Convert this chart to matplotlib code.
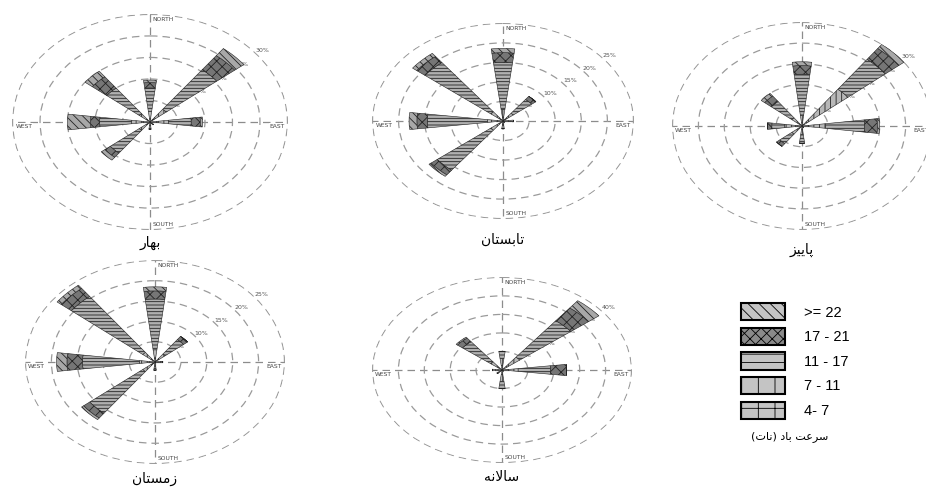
import numpy as np
import matplotlib.pyplot as plt
from matplotlib.patches import Patch

plt.rcParams['hatch.linewidth'] = 0.6

W, H = 926, 491

# wind directions N, NE, E, SE, S, SW, W, NW
angles = np.radians(np.arange(0, 360, 45))
speed_classes = ['4- 7', '7 - 11', '11 - 17', '17 - 21', '>= 22']   # inner -> outer

# percentages per speed class (inner -> outer), each list: N NE E SE S SW W NW
spring = [[1, 1.5, 1.5, 0.3, 0.5, 1, 1.5, 1],
          [2, 3, 2.5, 0.3, 0.5, 2, 2.5, 2],
          [6.5, 14, 5, 0.4, 1, 8, 7, 9],
          [1.5, 5, 2, 0, 0, 1.5, 2, 4],
          [0.7, 2.5, 0.5, 0, 0, 1, 5, 2]]
summer = [[1, 1, 0.5, 0.2, 0.5, 1, 1, 1],
          [2, 1.5, 0.5, 0.2, 0.5, 2, 2, 2],
          [12, 4.5, 1, 0, 1, 13, 11.5, 16],
          [2.5, 1, 0, 0, 0, 1.5, 2, 2],
          [1.1, 0, 0, 0, 0, 0.5, 1.5, 1]]
autumn = [[1, 1.5, 1.5, 0.3, 1, 1, 1.5, 1],
          [2, 12, 4, 0.2, 1.5, 2, 2.5, 2],
          [12, 11, 9, 0, 2.5, 3.5, 3, 6],
          [2.5, 4, 3, 0, 0, 1, 1, 2],
          [1.1, 1.5, 0.5, 0, 0, 0, 0, 1]]
winter = [[1, 1, 0.5, 0.2, 0.5, 1, 1, 1],
          [2, 1.5, 0.5, 0, 0.5, 2, 2, 2],
          [12.5, 4.5, 0.5, 0, 1, 13, 11, 17.5],
          [2, 1, 0, 0, 0, 1.5, 3, 2.5],
          [1, 0, 0, 0, 0, 0.5, 2, 1]]
annual = [[2, 2, 2, 0.3, 2, 0.5, 1, 1.5],
          [3, 5, 3, 0.3, 3, 1, 1, 3],
          [3, 20, 10, 0, 3, 0.5, 1, 11],
          [0, 7, 5, 0, 0, 0, 0, 2],
          [0, 4, 0, 0, 0, 0, 0, 0.5]]

spring_rings = [6, 12, 18, 24, 30]
summer_rings = [5, 10, 15, 20, 25]
autumn_rings = [6, 12, 18, 24, 30]
winter_rings = [5, 10, 15, 20, 25]
annual_rings = [8, 16, 24, 32, 40]

titles = ['بهار', 'تابستان', 'پاییز', 'زمستان', 'سالانه']
legend_title = 'سرعت باد (نات)'

# ---- minimal persian shaping (matplotlib has no bidi / joining) ----
FORMS = {
    'ا': ('\ufe8d', '\ufe8e', None, None),
    'ب': ('\ufe8f', '\ufe90', '\ufe91', '\ufe92'),
    'پ': ('\ufb56', '\ufb57', '\ufb58', '\ufb59'),
    'ت': ('\ufe95', '\ufe96', '\ufe97', '\ufe98'),
    'د': ('\ufea9', '\ufeaa', None, None),
    'ر': ('\ufead', '\ufeae', None, None),
    'ز': ('\ufeaf', '\ufeb0', None, None),
    'س': ('\ufeb1', '\ufeb2', '\ufeb3', '\ufeb4'),
    'ع': ('\ufec9', '\ufeca', '\ufecb', '\ufecc'),
    'ل': ('\ufedd', '\ufede', '\ufedf', '\ufee0'),
    'م': ('\ufee1', '\ufee2', '\ufee3', '\ufee4'),
    'ن': ('\ufee5', '\ufee6', '\ufee7', '\ufee8'),
    'ه': ('\ufee9', '\ufeea', '\ufeeb', '\ufeec'),
    'ی': ('\ufbfc', '\ufbfd', '\ufbfe', '\ufbff'),
}


def shape_fa(text):
    chars = list(text)
    out = []
    i = 0
    while i < len(chars):
        c = chars[i]
        prev = chars[i - 1] if i > 0 else None
        joined = prev in FORMS and FORMS[prev][2] is not None
        if c == 'ل' and i + 1 < len(chars) and chars[i + 1] == 'ا':
            out.append('\ufefc' if joined else '\ufefb')
            i += 2
            continue
        if c not in FORMS:
            out.append(c)
            i += 1
            continue
        nxt = chars[i + 1] if i + 1 < len(chars) else None
        links = FORMS[c][2] is not None and nxt in FORMS
        iso, fin, ini, med = FORMS[c]
        if joined and links:
            out.append(med)
        elif joined:
            out.append(fin)
        elif links:
            out.append(ini)
        else:
            out.append(iso)
        i += 1
    vis = ''.join(reversed(out))
    return vis.translate(str.maketrans('()', ')('))


fills = ['#b8b8b8', '#b8b8b8', '#b0b0b0', '#767676', '#a8a8a8']
wedge_hatch = ['+++', '|||', '-----', 'xxx', '\\\\\\\\']
legend_hatch = ['+', '|', '--', 'xxx', '\\\\\\']
legend_fills = ['#c4c4c4', '#c4c4c4', '#c4c4c4', '#8a8a8a', '#c4c4c4']

fig = plt.figure(figsize=(W / 100, H / 100), dpi=100)


def rose(data, rings, cx, cy, sx, sy, title, ty):
    ax = fig.add_axes([(cx - sx) / W, 1 - (cy + sy) / H, 2 * sx / W, 2 * sy / H],
                      projection='polar')
    ax.set_aspect('auto')
    ax.set_theta_zero_location('N')
    ax.set_theta_direction(-1)
    ax.set_ylim(0, rings[-1] * 1.004)
    ax.set_rgrids(rings, labels=[f'{r}%' for r in rings], angle=50,
                  fontsize=4.5, color='#555555')
    ax.set_thetagrids([0, 90, 180, 270], labels=['', '', '', ''])
    ax.xaxis.grid(True, color='#8c8c8c', linestyle=(0, (6, 4)), linewidth=0.9)
    ax.yaxis.grid(True, color='#9a9a9a', linestyle=(0, (6, 4)), linewidth=0.9)
    ax.spines['polar'].set_visible(False)
    ax.patch.set_alpha(0)
    bottom = np.zeros(len(angles))
    for k, vals in enumerate(data):
        ax.bar(angles, vals, width=np.radians(14), bottom=bottom, color=fills[k],
               edgecolor='#222222', linewidth=0.4, hatch=wedge_hatch[k], zorder=3)
        bottom = bottom + np.array(vals)
    rmax = rings[-1]
    kw = dict(textcoords='offset points', fontsize=4.3, color='#444444',
              bbox=dict(boxstyle='square,pad=0.1', fc='white', ec='none'))
    ax.annotate('NORTH', xy=(0, rmax), xytext=(2, -4), ha='left', va='center', **kw)
    ax.annotate('SOUTH', xy=(np.pi, rmax), xytext=(2, 4), ha='left', va='center', **kw)
    ax.annotate('EAST', xy=(np.pi / 2, rmax), xytext=(-2, -3), ha='right', va='center', **kw)
    ax.annotate('WEST', xy=(3 * np.pi / 2, rmax), xytext=(2, -3), ha='left', va='center', **kw)
    fig.text(cx / W, 1 - ty / H, shape_fa(title), ha='center', va='center',
             fontsize=10, family='DejaVu Sans')


rose(spring, spring_rings, 150, 122, 138, 108, titles[0], 243)
rose(summer, summer_rings, 503, 121, 131, 98, titles[1], 240)
rose(autumn, autumn_rings, 802, 126, 130, 104, titles[2], 250)
rose(winter, winter_rings, 155, 362, 130, 102, titles[3], 479)
rose(annual, annual_rings, 502, 370, 130, 93, titles[4], 477)

handles = [Patch(facecolor=legend_fills[k], edgecolor='black', hatch=legend_hatch[k],
                 linewidth=1.5)
           for k in range(len(speed_classes))][::-1]
fig.legend(handles, speed_classes[::-1], loc='upper left',
           bbox_to_anchor=(728 / W, 1 - 290 / H), frameon=False,
           prop={'family': 'Liberation Sans', 'size': 10.5},
           handlelength=3.0, handleheight=1.45, labelspacing=0.5, handletextpad=1.3)
fig.text(790 / W, 1 - 437 / H, shape_fa(legend_title), ha='center', va='center',
         fontsize=8, family='DejaVu Sans')

fig.savefig('out.png', dpi=100)
